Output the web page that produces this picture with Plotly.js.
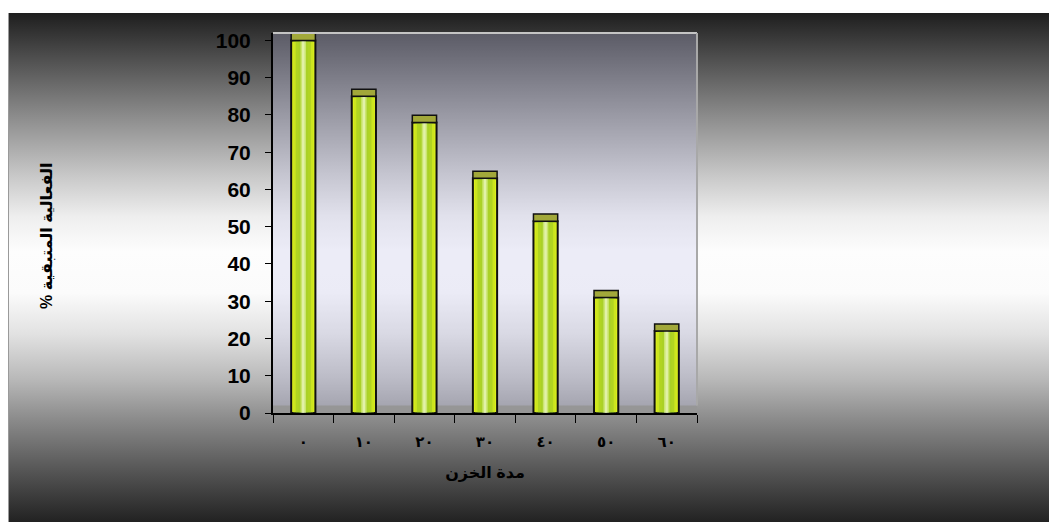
<!DOCTYPE html>
<html>
<head>
<meta charset="utf-8">
<script src="https://cdn.plot.ly/plotly-3.0.1.min.js"></script>
<style>
  html, body { margin: 0; padding: 0; background: #ffffff; }
  #frame {
    position: absolute; left: 8px; top: 13px; width: 1041px; height: 509px;
    border-left: 1px solid #9a9a9a; box-sizing: border-box;
    background: linear-gradient(to bottom,
      #1e1e1e 0%, #4a4a4a 8%, #8a8a8a 20%, #c8c8c8 32%, #eeeeee 40%,
      #fdfdfd 47%, #fbfbfb 55%, #e2e2e2 63%, #b8b8b8 72%, #8a8a8a 80%,
      #555555 90%, #222222 100%);
  }
  #chart { position: absolute; left: 0; top: 0; width: 1049px; height: 522px; }
</style>
</head>
<body>
<div id="frame"></div>
<div id="chart"></div>
<script>
// Storage period (days) and remaining activity (%)
const storageDays = ['٠', '١٠', '٢٠', '٣٠', '٤٠', '٥٠', '٦٠'];
const remainingActivity = [100, 85, 78, 63, 51.5, 31, 22];
const yTickValues = [0, 10, 20, 30, 40, 50, 60, 70, 80, 90, 100];
const xAxisTitle = 'مدة الخزن';
const yAxisTitle = '\u200Fالفعالية المتبقية %\u200F';

// Styling
const FONT = 'Liberation Sans, Arial, DejaVu Sans, sans-serif';
const CAP_DEPTH = 1.9;   // visual depth of each column's top face, in axis units
const BAR_WIDTH = 0.40;

// Nested column layers, widest first, giving a yellow rim, green core and pale centre glow
const columnLayers = [
  { width: BAR_WIDTH, color: '#dcef1c', line: { color: '#111111', width: 2 } },
  { width: 0.33, color: 'rgba(175,212,38,0.35)' },
  { width: 0.25, color: 'rgba(120,178,40,0.32)' },
  { width: 0.15, color: 'rgba(150,200,60,0.25)' },
  { width: 0.09, color: 'rgba(245,252,200,0.45)' },
  { width: 0.04, color: 'rgba(255,255,240,0.45)' }
];

const traces = columnLayers.map(layer => ({
  type: 'bar', x: storageDays, y: remainingActivity, width: layer.width,
  marker: { color: layer.color, line: layer.line || { width: 0 } },
  hoverinfo: 'skip', showlegend: false
}));

traces.push({
  type: 'bar', x: storageDays, base: remainingActivity,
  y: remainingActivity.map(() => CAP_DEPTH), width: BAR_WIDTH,
  marker: { color: '#a2a83a', line: { color: '#111111', width: 1.5 } },
  hoverinfo: 'skip', showlegend: false
});

const layout = {
  width: 1049, height: 522,
  margin: { l: 273, r: 352, t: 33, b: 109, pad: 0 },
  paper_bgcolor: 'rgba(0,0,0,0)',
  plot_bgcolor: 'rgba(195,195,235,0.28)',
  barmode: 'overlay',
  font: { family: FONT, color: '#000000' },
  xaxis: {
    type: 'category',
    showline: true, linecolor: '#000000', linewidth: 2,
    ticks: 'outside', ticklen: 8, tickwidth: 1, tickcolor: '#000000',
    tickson: 'boundaries',
    ticklabelstandoff: 14,
    showgrid: false, zeroline: false,
    tickfont: { family: FONT, size: 15, weight: 'bold', color: '#000000' },
    title: { text: xAxisTitle, standoff: 18,
             font: { family: FONT, size: 16, weight: 'bold', color: '#000000' } },
    automargin: false
  },
  yaxis: {
    range: [0, 102],
    tickvals: yTickValues,
    showline: true, linecolor: '#000000', linewidth: 2,
    ticks: 'outside', ticklen: 6, tickwidth: 1, tickcolor: '#000000',
    ticklabelstandoff: 10,
    showgrid: false, zeroline: false,
    tickfont: { family: FONT, size: 21, weight: 'bold', color: '#000000' },
    automargin: false
  },
  annotations: [
    { text: yAxisTitle, textangle: -90, showarrow: false,
      xref: 'paper', yref: 'paper', x: 0, y: 0.5, xshift: -226, yshift: -13,
      xanchor: 'center', yanchor: 'middle',
      font: { family: FONT, size: 16, weight: 'bold', color: '#000000' } }
  ],
  shapes: [
    // floor of the column box
    { type: 'rect', xref: 'paper', yref: 'y', x0: 0, x1: 1, y0: 0, y1: 2,
      fillcolor: '#969696', line: { width: 0 }, layer: 'below' },
    // back wall top edge and right edge
    { type: 'line', xref: 'paper', yref: 'paper', x0: 0, x1: 1, y0: 1, y1: 1,
      line: { color: '#c4c4c4', width: 2 } },
    { type: 'line', xref: 'paper', yref: 'paper', x0: 1, x1: 1, y0: 0.02, y1: 1,
      line: { color: '#a8a8a8', width: 2 } }
  ]
};

Plotly.newPlot('chart', traces, layout,
  { displayModeBar: false, staticPlot: true });
</script>
</body>
</html>
